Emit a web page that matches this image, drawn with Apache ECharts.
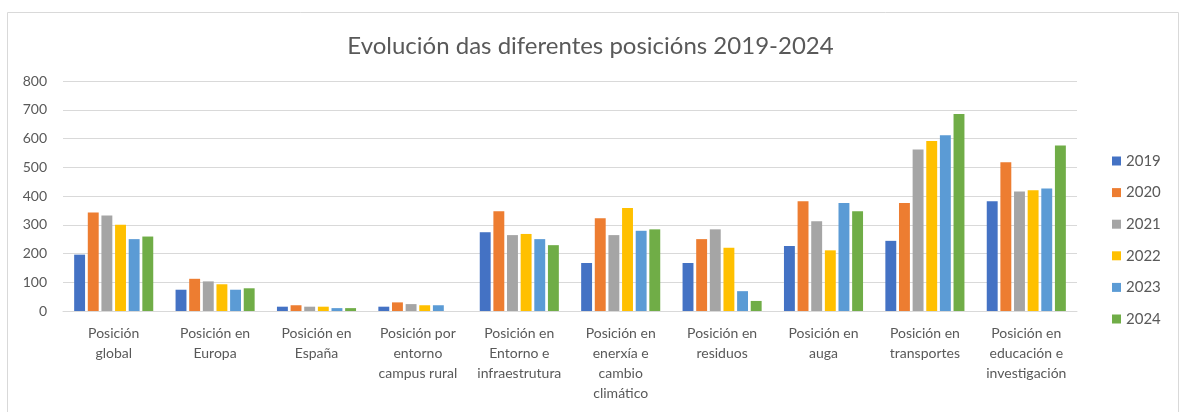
<!DOCTYPE html>
<html>
<head>
<meta charset="utf-8">
<script src="https://cdn.jsdelivr.net/npm/echarts@6/dist/echarts.min.js"></script>
<style>
    html, body { margin: 0; padding: 0; background: #fff; }
    #chart { width: 1181px; height: 412px; }
</style>
</head>
<body>
<div id="chart"></div>
<script>
// categorías (con saltos de liña como no orixinal)
var categories = [
    'Posición\nglobal',
    'Posición en\nEuropa',
    'Posición en\nEspaña',
    'Posición por\nentorno\ncampus rural',
    'Posición en\nEntorno e\ninfraestrutura',
    'Posición en\nenerxía e\ncambio\nclimático',
    'Posición en\nresiduos',
    'Posición en\nauga',
    'Posición en\ntransportes',
    'Posición en\neducación e\ninvestigación'
];
var years = ['2019', '2020', '2021', '2022', '2023', '2024'];
var colors = ['#4472C4', '#ED7D31', '#A5A5A5', '#FFC000', '#5B9BD5', '#70AD47'];

var v2019 = [196, 74, 15, 15, 274, 167, 167, 226, 244, 382];
var v2020 = [343, 112, 20, 30, 347, 323, 250, 382, 376, 517];
var v2021 = [332, 103, 15, 24, 264, 264, 284, 312, 562, 416];
var v2022 = [300, 93, 15, 20, 268, 358, 220, 211, 591, 420];
var v2023 = [250, 74, 10, 20, 250, 279, 69, 376, 611, 426];
var v2024 = [259, 79, 10, 0, 229, 284, 35, 347, 685, 576];
var yearValues = [v2019, v2020, v2021, v2022, v2023, v2024];

var yTicks = [0, 100, 200, 300, 400, 500, 600, 700, 800];

var fontFam = 'Lato, "Open Sans", sans-serif';
var txtColor = '#595959';

var series = [];
for (var i = 0; i < years.length; i++) {
    series.push({
        name: years[i],
        type: 'bar',
        data: yearValues[i],
        barGap: '25%',
        barCategoryGap: '22%',
        itemStyle: { color: colors[i] }
    });
}

var myChart = echarts.init(document.getElementById('chart'), null, { renderer: 'canvas' });
var option = {
    animation: false,
    color: colors,
    title: {
        text: 'Evolución das diferentes posicións 2019-2024',
        left: 'center',
        top: 29,
        textStyle: { fontFamily: fontFam, fontSize: 24, fontWeight: 'normal', color: txtColor }
    },
    graphic: [{
        type: 'rect',
        shape: { x: 7.5, y: 12.5, width: 1171, height: 420 },
        style: { fill: 'none', stroke: '#d9d9d9', lineWidth: 1 },
        silent: true
    }],
    legend: {
        orient: 'vertical',
        left: 1107,
        top: 148,
        icon: 'rect',
        itemWidth: 9,
        itemHeight: 9,
        itemGap: 15.6,
        data: years,
        textStyle: { fontFamily: fontFam, fontSize: 15, lineHeight: 16, color: txtColor }
    },
    grid: { left: 63, right: 104, top: 81, bottom: 101, containLabel: false },
    xAxis: {
        type: 'category',
        data: categories,
        axisLine: { lineStyle: { color: '#d9d9d9', width: 1 } },
        axisTick: { show: false },
        axisLabel: {
            interval: 0,
            margin: 12,
            fontFamily: fontFam,
            fontSize: 14,
            lineHeight: 20,
            color: txtColor
        }
    },
    yAxis: {
        type: 'value',
        min: yTicks[0],
        max: yTicks[yTicks.length - 1],
        interval: 100,
        axisLine: { show: false },
        axisTick: { show: false },
        splitLine: { lineStyle: { color: '#d9d9d9', width: 1 } },
        axisLabel: { margin: 16, fontFamily: fontFam, fontSize: 14, color: txtColor }
    },
    series: series
};
myChart.setOption(option);
</script>
</body>
</html>
